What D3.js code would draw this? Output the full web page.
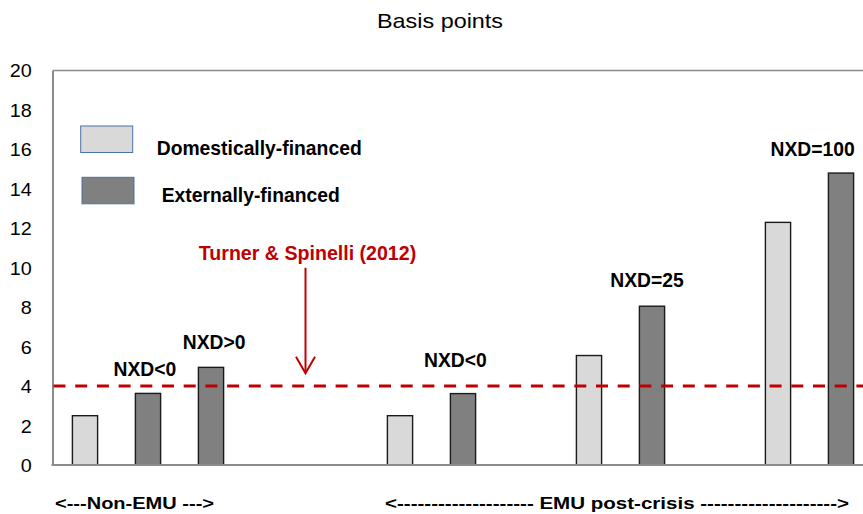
<!DOCTYPE html>
<html>
<head>
<meta charset="utf-8">
<script src="https://cdn.jsdelivr.net/npm/d3@7"></script>
<style>
  html, body { margin: 0; padding: 0; background: #fff; }
  svg { display: block; }
</style>
</head>
<body>
<svg id="chart" width="863" height="514"></svg>
<script>
// ---- data ----
const categories = ["NonEMU_dom", "NonEMU_ext_neg", "NonEMU_ext_pos", "gap1", "gap2",
  "EMU_neg_dom", "EMU_neg_ext", "gap3", "EMU_25_dom", "EMU_25_ext", "gap4",
  "EMU_100_dom", "EMU_100_ext"];
const domesticCategories = ["NonEMU_dom", "EMU_neg_dom", "EMU_25_dom", "EMU_100_dom"];
const domesticValues = [2.5, 2.5, 5.55, 12.3];
const externalCategories = ["NonEMU_ext_neg", "NonEMU_ext_pos", "EMU_neg_ext", "EMU_25_ext", "EMU_100_ext"];
const externalValues = [3.63, 4.95, 3.62, 8.05, 14.8];
const yTicks = [0, 2, 4, 6, 8, 10, 12, 14, 16, 18, 20];
const referenceValue = 4;
const barLabels = ["NXD<0", "NXD>0", "NXD<0", "NXD=25", "NXD=100"];
const barLabelCategories = ["NonEMU_ext_neg", "NonEMU_ext_pos", "EMU_neg_ext", "EMU_25_ext", "EMU_100_dom"];
const barLabelShift = [-0.05, 0.05, -0.12, -0.08, 0.55];   // in band steps
const barLabelValues = [4.53, 5.88, 4.98, 9.04, 15.68];
const seriesNames = ["Domestically-financed", "Externally-financed"];
const seriesColors = ["#D9D9D9", "#808080"];
const titleText = "Basis points";
const refLabel = "Turner & Spinelli (2012)";
const refLabelValue = 10.4;
const arrowFrom = 10.0, arrowTo = 4.65;
const groupLabels = ["<---Non-EMU --->", "<-------------------- EMU post-crisis -------------------->"];

// ---- layout ----
const svg = d3.select("#chart");
const mLeft = 52.5, mTop = 70.5, mBottom = 465, plotRight = 872.5, viewRight = 863;

const x = d3.scaleBand().domain(categories).range([53.5, plotRight]).paddingInner(0.6).paddingOuter(0.3);
const y = d3.scaleLinear().domain([0, 20]).range([mBottom, mTop]);
const step = x.step();
const bw = x.bandwidth();
const cx = c => x(c) + bw / 2;

const FONT = "'Liberation Sans', Arial, sans-serif";

// title
svg.append("text")
  .attr("transform", `translate(440,28) scale(1.17,1)`)
  .attr("text-anchor", "middle")
  .style("font-family", FONT).style("font-size", "20px").style("fill", "#000")
  .text(titleText);

// frame: top line
svg.append("line").attr("x1", mLeft).attr("x2", viewRight).attr("y1", y(20)).attr("y2", y(20))
  .attr("stroke", "#8c8c8c").attr("stroke-width", 1.5);

// y axis
const yAxis = svg.append("g").attr("transform", `translate(${mLeft},0)`)
  .call(d3.axisLeft(y).tickValues(yTicks).tickSize(0).tickPadding(0).tickFormat(d3.format("d")));
yAxis.select(".domain").attr("stroke", "#8c8c8c").attr("stroke-width", 2);
yAxis.selectAll("text")
  .attr("x", -20.8 / 1.1).attr("dy", "0.36em")
  .attr("transform", "scale(1.1,1)")
  .style("font-family", FONT).style("font-size", "18px").style("fill", "#000");

// bars
svg.append("g").selectAll("rect").data(domesticCategories.map((c, i) => ({ c, v: domesticValues[i] })))
  .join("rect")
  .attr("x", d => x(d.c)).attr("width", bw)
  .attr("y", d => y(d.v)).attr("height", d => y(0) - y(d.v))
  .attr("fill", seriesColors[0]).attr("stroke", "#1a1a1a").attr("stroke-width", 1.4);
svg.append("g").selectAll("rect").data(externalCategories.map((c, i) => ({ c, v: externalValues[i] })))
  .join("rect")
  .attr("x", d => x(d.c)).attr("width", bw)
  .attr("y", d => y(d.v)).attr("height", d => y(0) - y(d.v))
  .attr("fill", seriesColors[1]).attr("stroke", "#1a1a1a").attr("stroke-width", 1.4);

// x axis baseline
svg.append("line").attr("x1", mLeft - 1).attr("x2", viewRight).attr("y1", y(0)).attr("y2", y(0))
  .attr("stroke", "#8c8c8c").attr("stroke-width", 2);

// reference dashed line
svg.append("line").attr("x1", mLeft + 1).attr("x2", viewRight).attr("y1", y(referenceValue)).attr("y2", y(referenceValue))
  .attr("stroke", "#C00000").attr("stroke-width", 3).attr("stroke-dasharray", "12,9.7");

// bar labels
svg.append("g").selectAll("text").data(barLabels)
  .join("text")
  .attr("x", (d, i) => cx(barLabelCategories[i]) + barLabelShift[i] * step)
  .attr("y", (d, i) => y(barLabelValues[i]))
  .attr("text-anchor", "middle")
  .style("font-family", FONT).style("font-weight", "bold").style("font-size", "19.3px").style("fill", "#000")
  .text(d => d);

// red annotation: arrow sits on the boundary between the two empty slots
const arrowX = x("gap2") - step * x.paddingInner() / 2;
svg.append("text").attr("x", arrowX + 2).attr("y", y(refLabelValue))
  .attr("text-anchor", "middle")
  .style("font-family", FONT).style("font-weight", "bold").style("font-size", "19.6px").style("fill", "#C00000")
  .text(refLabel);
svg.append("line").attr("x1", arrowX).attr("x2", arrowX).attr("y1", y(arrowFrom)).attr("y2", y(arrowTo))
  .attr("stroke", "#C00000").attr("stroke-width", 2);
svg.append("path")
  .attr("d", `M${arrowX - 9.5},${y(arrowTo) - 16.5} L${arrowX},${y(arrowTo)} L${arrowX + 9.5},${y(arrowTo) - 16.5}`)
  .attr("fill", "none").attr("stroke", "#C00000").attr("stroke-width", 2);

// legend
const legend = [
  { name: seriesNames[0], color: seriesColors[0], rx: 80.7, ry: 126, tx: 156.7, ty: 155, w: 205 },
  { name: seriesNames[1], color: seriesColors[1], rx: 82, ry: 177.3, tx: 161.7, ty: 202, w: 178 }
];
const lg = svg.append("g");
lg.selectAll("rect").data(legend).join("rect")
  .attr("x", d => d.rx).attr("y", d => d.ry).attr("width", 52).attr("height", 26.5)
  .attr("fill", d => d.color).attr("stroke", "#4a72a6").attr("stroke-width", 1);
lg.selectAll("text").data(legend).join("text")
  .attr("x", d => d.tx).attr("y", d => d.ty)
  .attr("textLength", d => d.w).attr("lengthAdjust", "spacingAndGlyphs")
  .style("font-family", FONT).style("font-weight", "bold").style("font-size", "19.3px").style("fill", "#000")
  .text(d => d.name);

// group labels under axis
const groups = [
  { t: groupLabels[0], x: 55, w: 159 },
  { t: groupLabels[1], x: 385, w: 464 }
];
svg.append("g").selectAll("text").data(groups).join("text")
  .attr("x", d => d.x).attr("y", 509.3)
  .attr("textLength", d => d.w).attr("lengthAdjust", "spacingAndGlyphs")
  .style("font-family", FONT).style("font-weight", "bold").style("font-size", "17px").style("fill", "#000")
  .text(d => d.t);
</script>
</body>
</html>
